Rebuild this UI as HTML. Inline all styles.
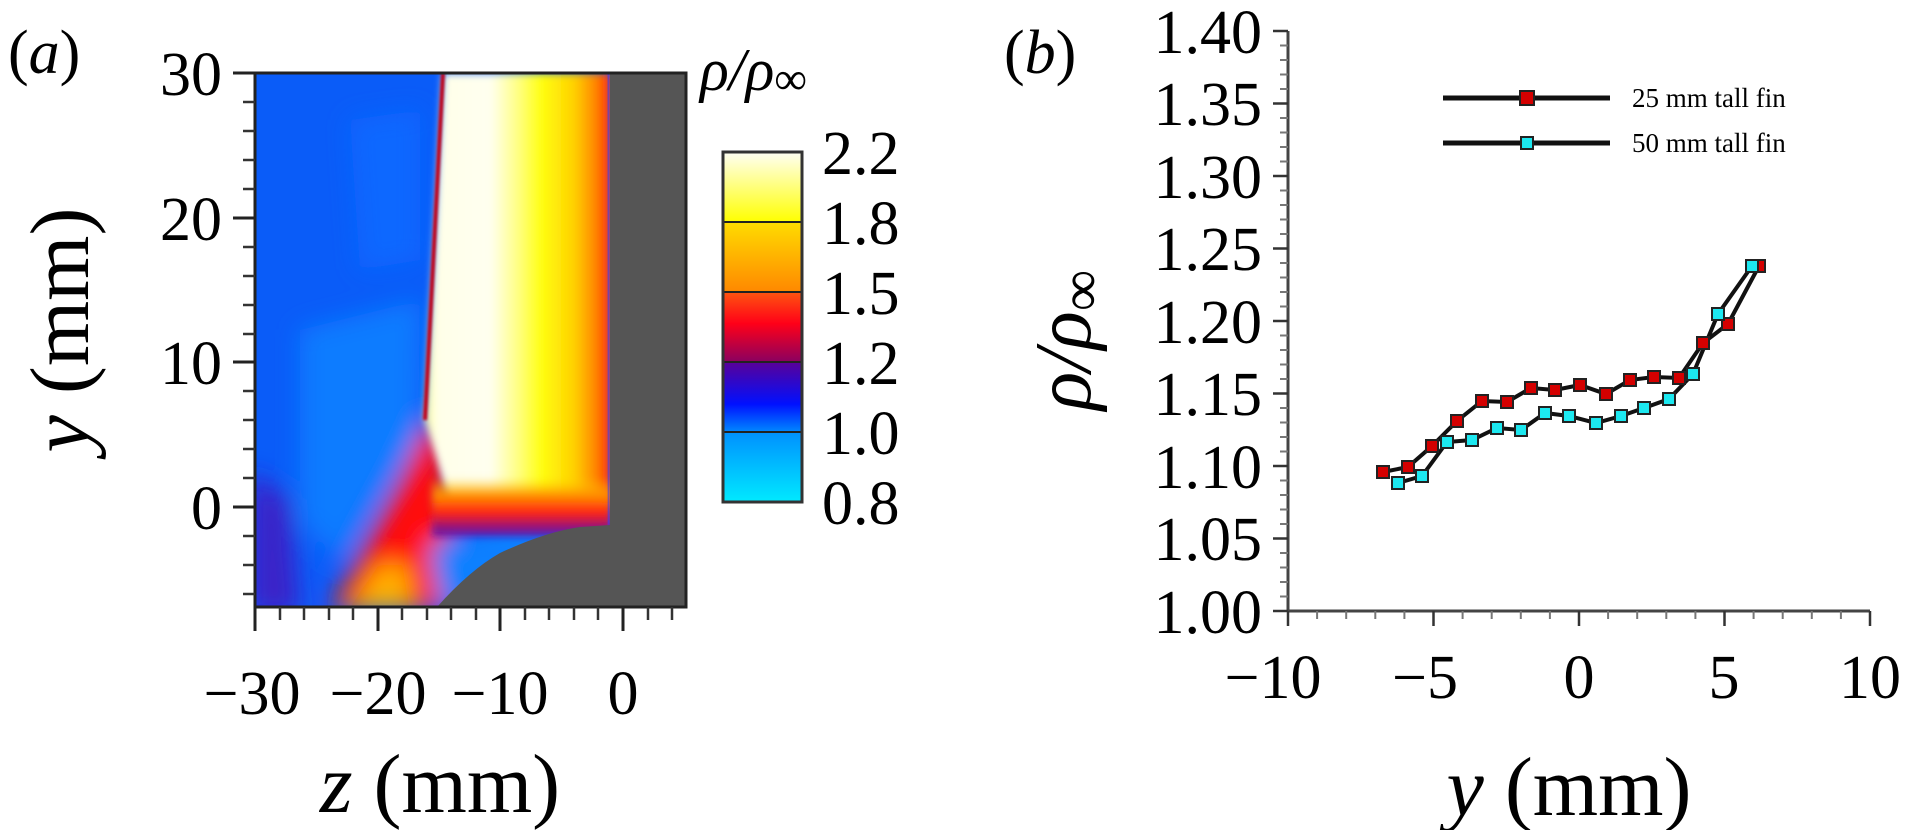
<!DOCTYPE html>
<html><head><meta charset="utf-8"><style>
html,body{margin:0;padding:0;background:#fff;}
svg{display:block;}
svg text{font-family:"Liberation Serif","Times New Roman",serif !important;fill:#000;}
</style></head><body>
<svg width="1917" height="830" viewBox="0 0 1917 830" xmlns="http://www.w3.org/2000/svg" font-family="Liberation Serif, serif">
<defs>
<filter id="bl" x="-20%" y="-20%" width="140%" height="140%"><feGaussianBlur stdDeviation="12"/></filter>
<filter id="bl2" x="-20%" y="-20%" width="140%" height="140%"><feGaussianBlur stdDeviation="4"/></filter>
<filter id="bl3" x="-20%" y="-20%" width="140%" height="140%"><feGaussianBlur stdDeviation="1.2"/></filter>
<clipPath id="cp"><rect x="255" y="73" width="431" height="534"/></clipPath>
<linearGradient id="band" x1="0" x2="1" y1="0" y2="0">
<stop offset="0" stop-color="#ffff90"/><stop offset="0.06" stop-color="#ffffe8"/><stop offset="0.35" stop-color="#fffff0"/><stop offset="0.5" stop-color="#ffff80"/><stop offset="0.62" stop-color="#ffff10"/><stop offset="0.8" stop-color="#ffd000"/><stop offset="0.92" stop-color="#ff8000"/><stop offset="1" stop-color="#ff1a10"/>
</linearGradient>
<linearGradient id="bot" x1="0" x2="0" y1="0" y2="1">
<stop offset="0" stop-color="#ffd000" stop-opacity="0"/><stop offset="0.3" stop-color="#ff9000"/><stop offset="0.6" stop-color="#ff2010"/><stop offset="1" stop-color="#5010b8"/>
</linearGradient>
<linearGradient id="c1" x1="0" x2="0" y1="0" y2="1"><stop offset="0" stop-color="#fffff4"/><stop offset="1" stop-color="#ffff00"/></linearGradient>
<linearGradient id="c2" x1="0" x2="0" y1="0" y2="1"><stop offset="0" stop-color="#ffdc00"/><stop offset="1" stop-color="#ff8800"/></linearGradient>
<linearGradient id="c3" x1="0" x2="0" y1="0" y2="1"><stop offset="0" stop-color="#ff5510"/><stop offset="0.45" stop-color="#ff0018"/><stop offset="1" stop-color="#8a0060"/></linearGradient>
<linearGradient id="c4" x1="0" x2="0" y1="0" y2="1"><stop offset="0" stop-color="#5a0098"/><stop offset="0.6" stop-color="#0010ff"/><stop offset="1" stop-color="#0088ff"/></linearGradient>
<linearGradient id="c5" x1="0" x2="0" y1="0" y2="1"><stop offset="0" stop-color="#0090ff"/><stop offset="1" stop-color="#00eaff"/></linearGradient>
</defs>

<!-- Panel a contour -->
<g clip-path="url(#cp)">
<rect x="255" y="73" width="431" height="534" fill="#0a5cf8"/>
<g filter="url(#bl)">
<path d="M300 330 L420 300 L418 440 L340 560 L300 520 Z" fill="#0a7cff"/>
<path d="M350 120 L420 110 L420 260 L360 270 Z" fill="#0a68ff"/>
<path d="M250 470 L290 500 L300 615 L250 615 Z" fill="#3a20c8"/>
<path d="M330 610 L400 480 L428 420 L445 440 L455 610 Z" fill="#ff1010"/>
<path d="M350 610 L378 565 L408 565 L412 610 Z" fill="#ffb000"/>
<path d="M430 545 L520 520 L600 525 L560 548 L470 600 L440 607 Z" fill="#0a80ff"/>
</g>
<path d="M443 73 L612 73 L612 505 L450 505 L425 420 Z" fill="url(#band)" filter="url(#bl2)"/>
<rect x="432" y="478" width="180" height="58" fill="url(#bot)" filter="url(#bl2)"/>
<path d="M443 73 L425 420" stroke="#c00018" stroke-width="4" fill="none" filter="url(#bl3)"/>
<path d="M608 73 L609 525" stroke="#3040ff" stroke-width="2" fill="none" filter="url(#bl3)"/>
<path d="M610 73 L686 73 L686 607 L437 607 Q470 570 500 553 Q545 532 580 527 L610 525 Z" fill="#555555"/>
</g>
<rect x="255" y="73" width="431" height="534" fill="none" stroke="#222" stroke-width="3"/>
<!-- panel a ticks -->
<g stroke="#222" stroke-width="3">
<line x1="233" y1="73" x2="255" y2="73"/><line x1="233" y1="218" x2="255" y2="218"/><line x1="233" y1="362" x2="255" y2="362"/><line x1="233" y1="507" x2="255" y2="507"/>
<line x1="255" y1="607" x2="255" y2="631"/><line x1="378" y1="607" x2="378" y2="631"/><line x1="500" y1="607" x2="500" y2="631"/><line x1="623" y1="607" x2="623" y2="631"/>
</g>
<g stroke="#333" stroke-width="2.5">
<line x1="243" y1="102" x2="255" y2="102"/><line x1="243" y1="131" x2="255" y2="131"/><line x1="243" y1="160" x2="255" y2="160"/><line x1="243" y1="189" x2="255" y2="189"/>
<line x1="243" y1="247" x2="255" y2="247"/><line x1="243" y1="276" x2="255" y2="276"/><line x1="243" y1="305" x2="255" y2="305"/><line x1="243" y1="334" x2="255" y2="334"/>
<line x1="243" y1="391" x2="255" y2="391"/><line x1="243" y1="420" x2="255" y2="420"/><line x1="243" y1="449" x2="255" y2="449"/><line x1="243" y1="478" x2="255" y2="478"/>
<line x1="243" y1="536" x2="255" y2="536"/><line x1="243" y1="565" x2="255" y2="565"/><line x1="243" y1="594" x2="255" y2="594"/>
<line x1="280" y1="607" x2="280" y2="620"/><line x1="304" y1="607" x2="304" y2="620"/><line x1="329" y1="607" x2="329" y2="620"/><line x1="353" y1="607" x2="353" y2="620"/>
<line x1="402" y1="607" x2="402" y2="620"/><line x1="427" y1="607" x2="427" y2="620"/><line x1="451" y1="607" x2="451" y2="620"/><line x1="476" y1="607" x2="476" y2="620"/>
<line x1="525" y1="607" x2="525" y2="620"/><line x1="549" y1="607" x2="549" y2="620"/><line x1="574" y1="607" x2="574" y2="620"/><line x1="598" y1="607" x2="598" y2="620"/>
<line x1="648" y1="607" x2="648" y2="620"/><line x1="672" y1="607" x2="672" y2="620"/>
</g>
<g font-size="62" text-anchor="end" font-family="Liberation Serif, serif">
<text x="222" y="95">30</text><text x="222" y="240">20</text><text x="222" y="384">10</text><text x="222" y="529">0</text>
</g>
<g font-size="62" text-anchor="middle" font-family="Liberation Serif, serif">
<text x="252" y="714">−30</text><text x="378" y="714">−20</text><text x="500" y="714">−10</text><text x="623" y="714">0</text>
</g>
<text x="8" y="73" font-size="62" font-family="Liberation Serif, serif">(<tspan font-style="italic">a</tspan>)</text>
<text x="440" y="812" font-size="84" text-anchor="middle" font-family="Liberation Serif, serif"><tspan font-style="italic">z</tspan> (mm)</text>
<text transform="translate(88,330) rotate(-90)" font-size="84" text-anchor="middle" font-family="Liberation Serif, serif"><tspan font-style="italic">y</tspan> (mm)</text>

<!-- colorbar -->
<rect x="723" y="152" width="79" height="70" fill="url(#c1)"/>
<rect x="723" y="222" width="79" height="70" fill="url(#c2)"/>
<rect x="723" y="292" width="79" height="70" fill="url(#c3)"/>
<rect x="723" y="362" width="79" height="70" fill="url(#c4)"/>
<rect x="723" y="432" width="79" height="70" fill="url(#c5)"/>
<g stroke="#222" stroke-width="2"><line x1="723" y1="222" x2="802" y2="222"/><line x1="723" y1="292" x2="802" y2="292"/><line x1="723" y1="362" x2="802" y2="362"/><line x1="723" y1="432" x2="802" y2="432"/></g>
<rect x="723" y="152" width="79" height="350" fill="none" stroke="#333" stroke-width="3"/>
<g font-size="62" font-family="Liberation Serif, serif">
<text x="822" y="174">2.2</text><text x="822" y="244">1.8</text><text x="822" y="314">1.5</text><text x="822" y="384">1.2</text><text x="822" y="454">1.0</text><text x="822" y="524">0.8</text>
</g>
<text x="700" y="90" font-size="60" font-style="italic" font-family="Liberation Serif, serif">ρ/ρ<tspan font-style="normal" font-size="46" dy="4">∞</tspan></text>

<!-- Panel b -->
<text x="1004" y="73" font-size="62" font-family="Liberation Serif, serif">(<tspan font-style="italic">b</tspan>)</text>
<g stroke="#444" stroke-width="3"><line x1="1288" y1="31" x2="1288" y2="612"/><line x1="1287" y1="611" x2="1870" y2="611"/></g>
<g stroke="#333" stroke-width="2.5">
<line x1="1273" y1="611" x2="1288" y2="611"/><line x1="1273" y1="538.5" x2="1288" y2="538.5"/><line x1="1273" y1="466" x2="1288" y2="466"/><line x1="1273" y1="393.5" x2="1288" y2="393.5"/><line x1="1273" y1="321" x2="1288" y2="321"/><line x1="1273" y1="248.5" x2="1288" y2="248.5"/><line x1="1273" y1="176" x2="1288" y2="176"/><line x1="1273" y1="103.5" x2="1288" y2="103.5"/><line x1="1273" y1="31" x2="1288" y2="31"/>
<line x1="1288" y1="611" x2="1288" y2="626"/><line x1="1433.5" y1="611" x2="1433.5" y2="626"/><line x1="1579" y1="611" x2="1579" y2="626"/><line x1="1724.5" y1="611" x2="1724.5" y2="626"/><line x1="1870" y1="611" x2="1870" y2="626"/>
</g>
<g stroke="#777" stroke-width="2" id="minors"></g>
<g font-size="62" text-anchor="end" font-family="Liberation Serif, serif">
<text x="1262" y="633">1.00</text><text x="1262" y="560">1.05</text><text x="1262" y="488">1.10</text><text x="1262" y="415">1.15</text><text x="1262" y="343">1.20</text><text x="1262" y="270">1.25</text><text x="1262" y="198">1.30</text><text x="1262" y="125">1.35</text><text x="1262" y="53">1.40</text>
</g>
<g font-size="62" text-anchor="middle" font-family="Liberation Serif, serif">
<text x="1273" y="698">−10</text><text x="1425" y="698">−5</text><text x="1579" y="698">0</text><text x="1724" y="698">5</text><text x="1870" y="698">10</text>
</g>
<text x="1569" y="815" font-size="84" text-anchor="middle" font-family="Liberation Serif, serif"><tspan font-style="italic">y</tspan> (mm)</text>
<text transform="translate(1090,340) rotate(-90)" font-size="80" font-style="italic" text-anchor="middle" font-family="Liberation Serif, serif">ρ/ρ<tspan font-style="normal" font-size="58" dy="10">∞</tspan></text>

<!-- series -->
<polyline fill="none" stroke="#111" stroke-width="4" points="1383,472 1408,467 1432,446 1457,421 1482,401 1507,402 1531,388 1555,390 1580,385 1606,394 1630,380 1654,377 1679,378 1703,343 1728,324 1759,266"/>
<polyline fill="none" stroke="#111" stroke-width="4" points="1398,483 1422,476 1447,442 1472,440 1497,428 1521,430 1545,413 1569,416 1596,423 1621,416 1644,408 1669,399 1693,374 1718,314 1752,266"/>
<g fill="#d40000" stroke="#222" stroke-width="2">
<rect x="1377" y="466" width="12" height="12"/><rect x="1402" y="461" width="12" height="12"/><rect x="1426" y="440" width="12" height="12"/><rect x="1451" y="415" width="12" height="12"/><rect x="1476" y="395" width="12" height="12"/><rect x="1501" y="396" width="12" height="12"/><rect x="1525" y="382" width="12" height="12"/><rect x="1549" y="384" width="12" height="12"/><rect x="1574" y="379" width="12" height="12"/><rect x="1600" y="388" width="12" height="12"/><rect x="1624" y="374" width="12" height="12"/><rect x="1648" y="371" width="12" height="12"/><rect x="1673" y="372" width="12" height="12"/><rect x="1697" y="337" width="12" height="12"/><rect x="1722" y="318" width="12" height="12"/><rect x="1753" y="260" width="12" height="12"/>
</g>
<g fill="#1ce8f0" stroke="#222" stroke-width="2">
<rect x="1392" y="477" width="12" height="12"/><rect x="1416" y="470" width="12" height="12"/><rect x="1441" y="436" width="12" height="12"/><rect x="1466" y="434" width="12" height="12"/><rect x="1491" y="422" width="12" height="12"/><rect x="1515" y="424" width="12" height="12"/><rect x="1539" y="407" width="12" height="12"/><rect x="1563" y="410" width="12" height="12"/><rect x="1590" y="417" width="12" height="12"/><rect x="1615" y="410" width="12" height="12"/><rect x="1638" y="402" width="12" height="12"/><rect x="1663" y="393" width="12" height="12"/><rect x="1687" y="368" width="12" height="12"/><rect x="1712" y="308" width="12" height="12"/><rect x="1746" y="260" width="12" height="12"/>
</g>
<!-- legend -->
<line x1="1443" y1="98" x2="1610" y2="98" stroke="#111" stroke-width="5"/>
<rect x="1520" y="91" width="14" height="14" fill="#d40000" stroke="#222" stroke-width="2"/>
<line x1="1443" y1="143" x2="1610" y2="143" stroke="#111" stroke-width="5"/>
<rect x="1521" y="137" width="12" height="12" fill="#1ce8f0" stroke="#222" stroke-width="2"/>
<text x="1632" y="107" font-size="27" font-family="Liberation Serif, serif">25 mm tall fin</text>
<text x="1632" y="152" font-size="27" font-family="Liberation Serif, serif">50 mm tall fin</text>
</svg>
<script>
(function(){var g=document.getElementById('minors'),ns='http://www.w3.org/2000/svg';
function L(a,b,c,d){var l=document.createElementNS(ns,'line');l.setAttribute('x1',a);l.setAttribute('y1',b);l.setAttribute('x2',c);l.setAttribute('y2',d);g.appendChild(l);}
for(var i=0;i<=40;i++){if(i%5)L(1280,611-i*14.5,1288,611-i*14.5);}
for(var j=0;j<=20;j++){if(j%5)L(1288+j*29.1,611,1288+j*29.1,619);}})();
</script>
</body></html>
